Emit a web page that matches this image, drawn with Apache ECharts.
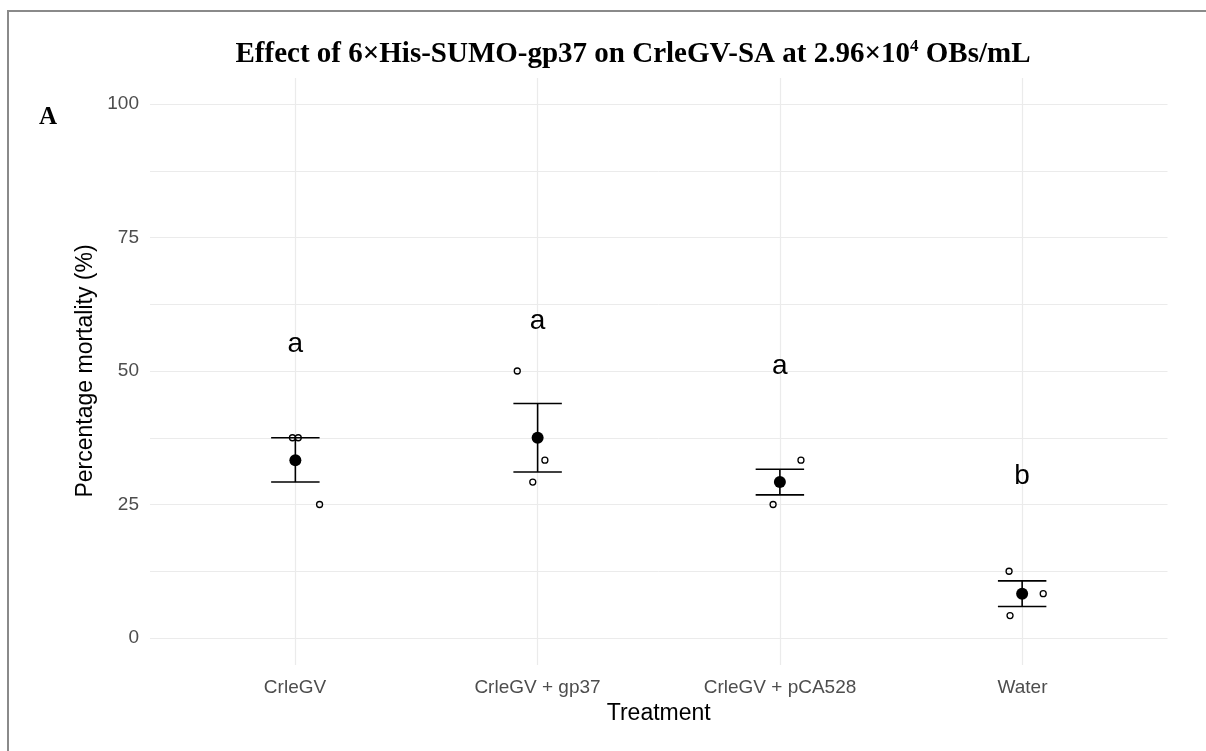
<!DOCTYPE html>
<html>
<head>
<meta charset="utf-8">
<script src="https://cdn.jsdelivr.net/npm/echarts@6/dist/echarts.min.js"></script>
<style>
	body { margin: 0; background: #fff; }
	.wrap { position: relative; width: 1206px; height: 751px; }
	.frame { position: absolute; left: 7px; top: 10px; right: 0; bottom: 0; border-top: 2px solid #8a8a8a; border-left: 2px solid #8a8a8a; pointer-events: none; }
	#chart { width: 1206px; height: 751px; }
</style>
</head>
<body>
<div class="wrap">
	<div id="chart"></div>
	<div class="frame"></div>
</div>
<script>
	var categories = ['CrleGV', 'CrleGV + gp37', 'CrleGV + pCA528', 'Water'];
	// replicate mortality (%) per treatment, and the horizontal jitter seen in the plot
	var replicateValues = [[37.5, 37.5, 25], [50, 33.3, 29.2], [33.3, 29.2, 25], [12.5, 8.3, 4.2]];
	var replicateJitter = [[-0.012, 0.012, 0.1], [-0.084, 0.03, -0.02], [0.087, 0, -0.028], [-0.054, 0.087, -0.05]];
	var meanValues = [33.3, 37.5, 29.2, 8.3];
	var seUpper = [37.5, 43.9, 31.6, 10.7];
	var seLower = [29.2, 31.1, 26.8, 5.9];
	var groupLetters = ['a', 'a', 'a', 'b'];
	var letterHeights = [55.0, 59.3, 50.8, 30.3];

	var sansFont = '"Liberation Sans", Arial, sans-serif';
	var serifFont = '"Liberation Serif", "Times New Roman", serif';

	var points = [];
	for (var i = 0; i < replicateValues.length; i++) {
		for (var j = 0; j < replicateValues[i].length; j++) {
			points.push([i + replicateJitter[i][j], replicateValues[i][j]]);
		}
	}
	var errData = [];
	var meanData = [];
	var letterData = [];
	for (var k = 0; k < categories.length; k++) {
		errData.push([k, seUpper[k], seLower[k]]);
		meanData.push([k, meanValues[k]]);
		letterData.push([k, letterHeights[k], groupLetters[k]]);
	}

	var chart = echarts.init(document.getElementById('chart'));
	var option = {
		animation: false,
		title: [{
				text: '{t|Effect of 6×His-SUMO-gp37 on CrleGV-SA at 2.96×10}{s|4}{t| OBs/mL}',
				left: 628,
				textAlign: 'center',
				top: 33,
				textStyle: {
					rich: {
						t: { fontFamily: serifFont, fontWeight: 'bold', fontSize: 29, color: '#000', lineHeight: 34 },
						s: { fontFamily: serifFont, fontWeight: 'bold', fontSize: 17, color: '#000', verticalAlign: 'top', lineHeight: 34, padding: [0, 0, 10, 0] }
					}
				}
			},
			{
				text: 'A',
				left: 34,
				top: 100,
				textStyle: { fontFamily: serifFont, fontWeight: 'bold', fontSize: 25, color: '#000' }
			}
		],
		grid: [{
				left: 150,
				right: 38.5,
				top: 104,
				bottom: 113
			},
			{
				left: 295,
				right: 183.5,
				top: 78,
				bottom: 86
			}
		],
		xAxis: [{
				type: 'value',
				gridIndex: 0,
				min: -0.6,
				max: 3.6,
				show: false
			},
			{
				type: 'category',
				gridIndex: 1,
				data: categories,
				boundaryGap: false,
				axisLine: { show: false },
				axisTick: { show: false },
				splitLine: { show: true, lineStyle: { color: '#ebebeb', width: 1.2 } },
				axisLabel: { margin: 13, fontFamily: sansFont, fontSize: 19, color: '#4d4d4d' },
				name: 'Treatment',
				nameLocation: 'middle',
				nameGap: 37,
				nameMoveOverlap: false,
				nameTextStyle: { fontFamily: sansFont, fontSize: 23, color: '#000' }
			}
		],
		yAxis: [{
				type: 'value',
				gridIndex: 0,
				min: 0,
				max: 100,
				interval: 25,
				axisLine: { show: false },
				axisTick: { show: false },
				splitLine: { show: true, lineStyle: { color: '#ebebeb', width: 1.2 } },
				minorTick: { show: false, splitNumber: 2 },
				minorSplitLine: { show: true, lineStyle: { color: '#ebebeb', width: 1 } },
				axisLabel: { margin: 11, fontFamily: sansFont, fontSize: 19, color: '#4d4d4d' },
				name: 'Percentage mortality (%)',
				nameLocation: 'middle',
				nameGap: 53,
				nameMoveOverlap: false,
				nameTextStyle: { fontFamily: sansFont, fontSize: 23, color: '#000' }
			},
			{
				type: 'value',
				gridIndex: 1,
				min: 0,
				max: 1,
				show: false
			}
		],
		series: [{
				name: 'replicates',
				type: 'scatter',
				xAxisIndex: 0,
				yAxisIndex: 0,
				data: points,
				symbol: 'circle',
				symbolSize: 6,
				itemStyle: { color: 'rgba(0,0,0,0)', borderColor: '#000', borderWidth: 1.3, opacity: 1 }
			},
			{
				name: 'se',
				type: 'custom',
				xAxisIndex: 0,
				yAxisIndex: 0,
				data: errData,
				renderItem: function(params, api) {
					var x = api.value(0);
					var top = api.coord([x, api.value(1)]);
					var bot = api.coord([x, api.value(2)]);
					var half = api.size([0.1, 0])[0];
					var style = { stroke: '#000', lineWidth: 1.6 };
					return {
						type: 'group',
						children: [{
								type: 'line',
								shape: { x1: top[0], y1: top[1], x2: bot[0], y2: bot[1] },
								style: style
							},
							{
								type: 'line',
								shape: { x1: top[0] - half, y1: top[1], x2: top[0] + half, y2: top[1] },
								style: style
							},
							{
								type: 'line',
								shape: { x1: bot[0] - half, y1: bot[1], x2: bot[0] + half, y2: bot[1] },
								style: style
							}
						]
					};
				}
			},
			{
				name: 'mean',
				type: 'scatter',
				xAxisIndex: 0,
				yAxisIndex: 0,
				data: meanData,
				symbolSize: 12,
				itemStyle: { color: '#000', opacity: 1 }
			},
			{
				name: 'letters',
				type: 'scatter',
				xAxisIndex: 0,
				yAxisIndex: 0,
				data: letterData,
				symbolSize: 0,
				itemStyle: { opacity: 1 },
				label: {
					show: true,
					position: 'inside',
					formatter: function(p) {
						return p.data[2];
					},
					fontFamily: sansFont,
					fontSize: 28,
					color: '#000'
				}
			}
		]
	};
	chart.setOption(option);
</script>
</body>
</html>
